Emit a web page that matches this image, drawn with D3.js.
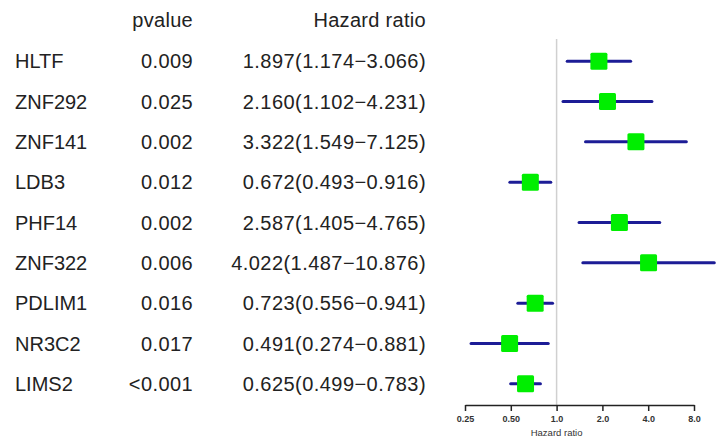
<!DOCTYPE html>
<html>
<head>
<meta charset="utf-8">
<script src="https://cdn.jsdelivr.net/npm/d3@7"></script>
<style>
  body { margin: 0; background: #fff; }
  svg { display: block; }
</style>
</head>
<body>
<svg id="chart" width="716" height="438"></svg>
<script>
// data
var genes = ["HLTF", "ZNF292", "ZNF141", "LDB3", "PHF14", "ZNF322", "PDLIM1", "NR3C2", "LIMS2"];
var pvalues = ["0.009", "0.025", "0.002", "0.012", "0.002", "0.006", "0.016", "0.017", "<0.001"];
var hr = [1.897, 2.160, 3.322, 0.672, 2.587, 4.022, 0.723, 0.491, 0.625];
var hrLow = [1.174, 1.102, 1.549, 0.493, 1.405, 1.487, 0.556, 0.274, 0.499];
var hrHigh = [3.066, 4.231, 7.125, 0.916, 4.765, 10.876, 0.941, 0.881, 0.783];
var hrText = ["1.897(1.174\u22123.066)", "2.160(1.102\u22124.231)", "3.322(1.549\u22127.125)",
  "0.672(0.493\u22120.916)", "2.587(1.405\u22124.765)", "4.022(1.487\u221210.876)",
  "0.723(0.556\u22120.941)", "0.491(0.274\u22120.881)", "0.625(0.499\u22120.783)"];
var ticks = [0.25, 0.5, 1, 2, 4, 8];
var tickLabels = ["0.25", "0.50", "1.0", "2.0", "4.0", "8.0"];

var svg = d3.select("#chart");
var font = "Liberation Sans, Arial, sans-serif";
var fs = 20;
var ink = "#222";

var x = d3.scaleLog().base(2)
  .domain([0.25, 8])
  .range([465, 694]);

var y = d3.scaleBand()
  .domain(d3.range(genes.length))
  .range([41, 404]);

var axisY = 405;

// header
svg.append("text").attr("x", 193).attr("y", 27)
  .attr("text-anchor", "end").attr("font-family", font).attr("font-size", fs)
  .attr("letter-spacing", 0.3).attr("fill", ink).text("pvalue");
svg.append("text").attr("x", 426).attr("y", 27)
  .attr("text-anchor", "end").attr("font-family", font).attr("font-size", fs)
  .attr("letter-spacing", 0.3).attr("fill", ink).text("Hazard ratio");

var row = svg.selectAll(".row")
  .data(genes)
  .join("g").attr("class", "row")
  .attr("transform", (d, i) => `translate(0,${y(i) + y.bandwidth() / 2})`);

row.append("text").attr("x", 15).attr("dy", "0.35em")
  .attr("font-family", font).attr("font-size", fs).attr("fill", ink)
  .text(d => d);

row.append("text").attr("x", 193).attr("dy", "0.35em").attr("text-anchor", "end")
  .attr("font-family", font).attr("font-size", fs).attr("letter-spacing", 0.4).attr("fill", ink)
  .text((d, i) => pvalues[i]);

row.append("text").attr("x", 426).attr("dy", "0.35em").attr("text-anchor", "end")
  .attr("font-family", font).attr("font-size", fs).attr("letter-spacing", 0.45).attr("fill", ink)
  .text((d, i) => hrText[i]);

// reference line at 1
svg.append("line")
  .attr("x1", x(1)).attr("x2", x(1))
  .attr("y1", 39).attr("y2", axisY)
  .attr("stroke", "#d0d0d0").attr("stroke-width", 1.5);

// CI lines
row.append("line")
  .attr("x1", (d, i) => x(hrLow[i]))
  .attr("x2", (d, i) => x(hrHigh[i]))
  .attr("stroke", "#1c1c96").attr("stroke-width", 3)
  .attr("stroke-linecap", "round");

// boxes
var box = 17;
row.append("rect")
  .attr("x", (d, i) => x(hr[i]) - box / 2)
  .attr("y", -box / 2)
  .attr("width", box).attr("height", box)
  .attr("rx", 1.5)
  .attr("fill", "#00ee00");

// axis
var axis = svg.append("g")
  .attr("transform", `translate(0,${axisY})`)
  .call(d3.axisBottom(x).tickValues(ticks).tickFormat((d, i) => tickLabels[i]).tickSize(6).tickSizeOuter(0));
axis.select(".domain").attr("stroke", ink).attr("stroke-width", 1.5);
axis.selectAll(".tick line").attr("stroke", ink).attr("stroke-width", 1.5);
axis.selectAll(".tick text").attr("font-family", font).attr("font-size", 9)
  .attr("font-weight", "bold").attr("fill", "#333").attr("dy", "0.85em");

svg.append("text").attr("x", x(1)).attr("y", 436)
  .attr("text-anchor", "middle").attr("font-family", font).attr("font-size", 9.5)
  .attr("fill", "#333").text("Hazard ratio");
</script>
</body>
</html>
